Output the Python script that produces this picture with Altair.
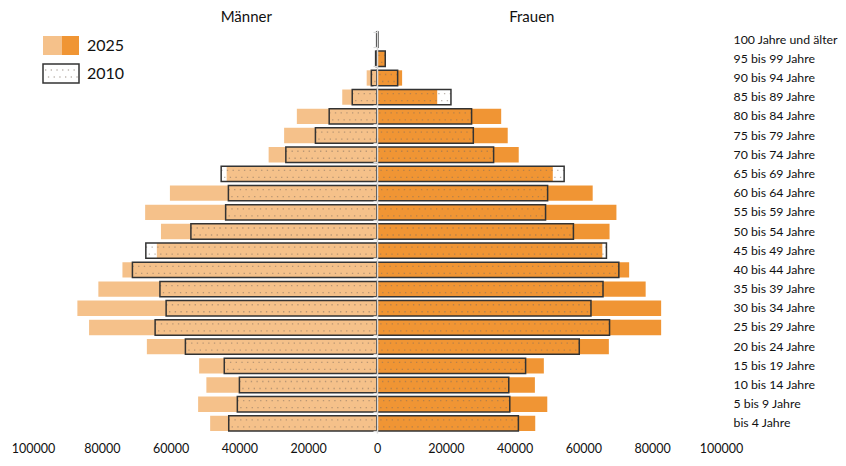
import altair as alt
import pandas as pd

ages = ["100 Jahre und älter", "95 bis 99 Jahre", "90 bis 94 Jahre", "85 bis 89 Jahre",
        "80 bis 84 Jahre", "75 bis 79 Jahre", "70 bis 74 Jahre", "65 bis 69 Jahre",
        "60 bis 64 Jahre", "55 bis 59 Jahre", "50 bis 54 Jahre", "45 bis 49 Jahre",
        "40 bis 44 Jahre", "35 bis 39 Jahre", "30 bis 34 Jahre", "25 bis 29 Jahre",
        "20 bis 24 Jahre", "15 bis 19 Jahre", "10 bis 14 Jahre", "5 bis 9 Jahre",
        "bis 4 Jahre"]

men_2025 = [200, 500, 3000, 10100, 23300, 27000, 31500, 43700, 60200, 67400, 62800,
            64000, 74000, 81000, 87100, 83700, 66900, 51700, 49600, 52000, 48500]
women_2025 = [300, 2400, 7300, 17500, 36100, 38000, 41200, 51100, 62700, 69600, 67600,
              65500, 73300, 78100, 82600, 82600, 67400, 48500, 45900, 49500, 46000]
men_2010 = [100, 400, 1650, 7200, 13900, 17900, 26500, 45300, 43200, 44000, 54100,
            67200, 71100, 63100, 61300, 64500, 55700, 44400, 40000, 40600, 43100]
women_2010 = [300, 2400, 6000, 21500, 27500, 28000, 33900, 54400, 49600, 49000, 57100,
              66700, 70300, 65700, 62200, 67600, 58800, 43200, 38300, 38600, 41100]

x_ticks = [-100000, -80000, -60000, -40000, -20000, 0, 20000, 40000, 60000, 80000, 100000]
side_titles = ["Männer", "Frauen"]
side_title_pos = [-38000, 45000]
legend_labels = ["2025", "2010"]

LIGHT = "#F5C18A"
DARK = "#F09534"
FONT = "Lato"

W, H = 688, 403

rows25 = []
rows10 = []
for i, a in enumerate(ages):
    rows25.append({"age": a, "sex": "M", "val": -men_2025[i]})
    rows25.append({"age": a, "sex": "W", "val": women_2025[i]})
    rows10.append({"age": a, "sex": "M", "val": -men_2010[i]})
    rows10.append({"age": a, "sex": "W", "val": women_2010[i]})
df25 = pd.DataFrame(rows25)
df10 = pd.DataFrame(rows10)

xscale = alt.Scale(domain=[-100000, 100000], nice=False, zero=False)
xaxis = alt.Axis(values=x_ticks, labelExpr="format(abs(datum.value), 'd')", title=None,
                 domain=False, ticks=False, grid=False, labelPadding=9,
                 labelFlush=False, labelOverlap=False, labelBound=False,
                 labelFontSize=12.5, labelFont=FONT, labelColor="#111")
yscale = alt.Scale(domain=ages, paddingInner=0.2, paddingOuter=0.1)

X = alt.X("val:Q", scale=xscale, axis=xaxis, stack=None)

bars25 = alt.Chart(df25).mark_bar().encode(
    x=X,
    y=alt.Y("age:N", scale=yscale, sort=ages,
            axis=alt.Axis(orient="right", title=None, domain=False, ticks=False,
                          labelAlign="left", labelPadding=12, labelFontSize=12.3,
                          labelFont=FONT, labelColor="#111", grid=False)),
    color=alt.Color("sex:N", scale=alt.Scale(domain=["M", "W"], range=[LIGHT, DARK]),
                    legend=None),
)

ynone = alt.Y("age:N", scale=yscale, sort=ages, axis=None)

dots1 = alt.Chart(df10).mark_rule(strokeDash=[1.3, 4.4], strokeWidth=1.3, color="#7d6e60",
                                  opacity=0.5, yOffset=-3.5).encode(
    x=X, x2=alt.datum(0), y=ynone)
dots2 = alt.Chart(df10).mark_rule(strokeDash=[1.3, 4.4], strokeDashOffset=2.8,
                                  strokeWidth=1.3, color="#7d6e60", opacity=0.5,
                                  yOffset=3.5).encode(
    x=X, x2=alt.datum(0), y=ynone)

box10 = alt.Chart(df10).mark_bar(color="white", fillOpacity=0, stroke="#333333",
                                 strokeWidth=1.5).encode(x=X, y=ynone)

center = alt.Chart(df10).mark_tick(opacity=0).encode(
    x=alt.X("zero:Q", scale=xscale, axis=xaxis),
    y=alt.Y("age:N", scale=yscale, sort=ages,
            axis=alt.Axis(orient="left", offset=-W / 2, labels=False, title=None,
                          domainColor="#d9d9d9", domainWidth=1.5, tickColor="#d9d9d9",
                          tickSize=4, tickWidth=1.2, tickBand="extent", grid=False,
                          zindex=1)),
).transform_calculate(zero="0")

titles_df = pd.DataFrame({"label": side_titles, "val": side_title_pos})
titles = alt.Chart(titles_df).mark_text(fontSize=15, font=FONT, color="#111",
                                        baseline="middle").encode(
    x=X, y=alt.value(-13), text="label:N")

# legend
leg_light = alt.Chart(titles_df.head(1)).mark_rect(color=LIGHT).encode(
    x=alt.value(10), x2=alt.value(29), y=alt.value(6), y2=alt.value(25))
leg_dark = alt.Chart(titles_df.head(1)).mark_rect(color=DARK).encode(
    x=alt.value(29), x2=alt.value(46), y=alt.value(6), y2=alt.value(25))
leg_box = alt.Chart(titles_df.head(1)).mark_rect(color="white", stroke="#333333",
                                                 strokeWidth=1.5).encode(
    x=alt.value(10), x2=alt.value(46), y=alt.value(34), y2=alt.value(53))
leg_d1 = alt.Chart(titles_df.head(1)).mark_rule(strokeDash=[1.3, 4.4], strokeWidth=1.3,
                                                color="#7d6e60", opacity=0.5).encode(
    x=alt.value(12), x2=alt.value(45), y=alt.value(40))
leg_d2 = alt.Chart(titles_df.head(1)).mark_rule(strokeDash=[1.3, 4.4], strokeDashOffset=2.8,
                                                strokeWidth=1.3, color="#7d6e60",
                                                opacity=0.5).encode(
    x=alt.value(12), x2=alt.value(45), y=alt.value(47))
leg_df = pd.DataFrame({"label": legend_labels})
leg_t1 = alt.Chart(leg_df.head(1)).mark_text(fontSize=16, font=FONT, color="#111",
                                             align="left", baseline="middle").encode(
    x=alt.value(54), y=alt.value(16), text="label:N")
leg_t2 = alt.Chart(leg_df.tail(1)).mark_text(fontSize=16, font=FONT, color="#111",
                                             align="left", baseline="middle").encode(
    x=alt.value(54), y=alt.value(43.5), text="label:N")

chart = alt.layer(
    bars25, dots1, dots2, box10, center, titles,
    leg_light, leg_dark, leg_box, leg_d1, leg_d2, leg_t1, leg_t2
).resolve_axis(y="independent").properties(
    width=W, height=H,
    autosize=alt.AutoSizeParams(type="none"),
    padding={"left": 25, "top": 22, "right": 117, "bottom": 25},
).configure_view(stroke=None)

chart.save("out.html", embed_options={"renderer": "svg", "actions": False})
